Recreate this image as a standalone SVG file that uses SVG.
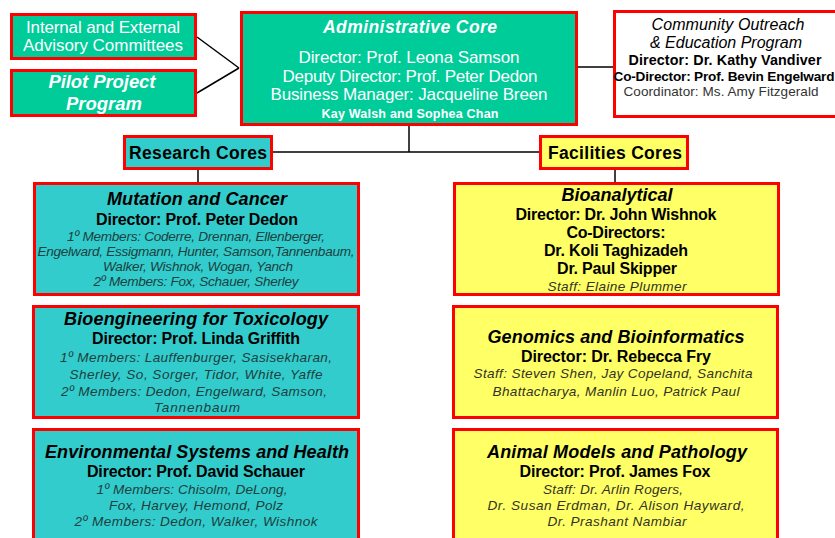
<svg xmlns="http://www.w3.org/2000/svg" width="835" height="538" viewBox="0 0 835 538">
<style>
text{font-family:"Liberation Sans",Arial,sans-serif;text-anchor:middle}
.box{stroke:#FF0000;stroke-width:3}
.green{fill:#00CC99}
.teal{fill:#33CCCC}
.yel{fill:#FFFF66}
.white{fill:#FFFFFF}
.conn line{stroke:#000;stroke-width:1.5}
.wt{fill:#FFFFFF}
.ttl{font-weight:bold;font-style:italic;font-size:18px;fill:#000}
.dir{font-weight:bold;font-size:16px;fill:#000}
.mem{font-style:italic;font-size:13.6px;fill:#1c3f3f}
.stf{font-style:italic;font-size:13.6px;fill:#333322}
</style>
<rect width="835" height="538" fill="#FFFFFF"/>
<g class="conn">
<line x1="197" y1="37" x2="239" y2="68"/>
<line x1="197" y1="93" x2="239" y2="68"/>
<line x1="578" y1="67" x2="614" y2="67"/>
<line x1="409" y1="126" x2="409" y2="152"/>
<line x1="273" y1="152" x2="539" y2="152"/>
<line x1="198" y1="170" x2="198" y2="183"/>
<line x1="615" y1="170" x2="615" y2="183"/>
</g>
<g id="advisory">
<rect class="box green" x="11.5" y="14.5" width="184" height="44"/>
<text class="wt" x="103" y="33" font-size="17" textLength="154">Internal and External</text>
<text class="wt" x="103" y="51" font-size="17" textLength="160">Advisory Committees</text>
</g>
<g id="pilot">
<rect class="box green" x="11.5" y="70.5" width="184" height="45"/>
<text class="wt" x="102" y="88" font-size="18.5" font-weight="bold" font-style="italic" textLength="107">Pilot Project</text>
<text class="wt" x="104" y="110" font-size="18.5" font-weight="bold" font-style="italic">Program</text>
</g>
<g id="admin">
<rect class="box green" x="241.5" y="12.5" width="335" height="112"/>
<text class="wt" x="410" y="33" font-size="17.5" font-weight="bold" font-style="italic" textLength="174">Administrative Core</text>
<text class="wt" x="409" y="63" font-size="17" textLength="221">Director: Prof. Leona Samson</text>
<text class="wt" x="410" y="82" font-size="17" textLength="255">Deputy Director: Prof. Peter Dedon</text>
<text class="wt" x="409" y="100" font-size="17" textLength="277">Business Manager: Jacqueline Breen</text>
<text class="wt" x="410" y="118" font-size="12.5" font-weight="bold" textLength="177">Kay Walsh and Sophea Chan</text>
</g>
<g id="outreach">
<rect class="box white" x="614.5" y="11.5" width="225" height="105"/>
<text x="728" y="30" font-size="16" font-style="italic" fill="#000" textLength="153">Community Outreach</text>
<text x="726" y="48" font-size="16" font-style="italic" fill="#000">&amp; Education Program</text>
<text x="725" y="65" font-size="14.3" font-weight="bold" fill="#000" textLength="193">Director: Dr. Kathy Vandiver</text>
<text x="724" y="81" font-size="13.6" font-weight="bold" fill="#000" textLength="221">Co-Director: Prof. Bevin Engelward</text>
<text x="721" y="96" font-size="13.5" fill="#333" textLength="195">Coordinator: Ms. Amy Fitzgerald</text>
</g>
<g id="research">
<rect class="box teal" x="124.5" y="136.5" width="147" height="32"/>
<text x="198" y="159" font-size="17.5" font-weight="bold" fill="#000" textLength="138">Research Cores</text>
</g>
<g id="facilities">
<rect class="box yel" x="540.5" y="136.5" width="147" height="32"/>
<text x="615" y="159" font-size="17.5" font-weight="bold" fill="#000" textLength="134">Facilities Cores</text>
</g>
<g id="mutation">
<rect class="box teal" x="34.5" y="183.5" width="324" height="111"/>
<text class="ttl" x="197" y="205" textLength="180">Mutation and Cancer</text>
<text class="dir" x="197" y="225" textLength="202">Director: Prof. Peter Dedon</text>
<text class="mem" x="196" y="241" textLength="258">1º Members: Coderre, Drennan, Ellenberger,</text>
<text class="mem" x="196" y="256" textLength="317">Engelward, Essigmann, Hunter, Samson,Tannenbaum,</text>
<text class="mem" x="198" y="271" textLength="190">Walker, Wishnok, Wogan, Yanch</text>
<text class="mem" x="196" y="286" textLength="205">2º Members: Fox, Schauer, Sherley</text>
</g>
<g id="bioanalytical">
<rect class="box yel" x="454.5" y="183.5" width="324" height="111"/>
<text class="ttl" x="617" y="201" textLength="111">Bioanalytical</text>
<text class="dir" x="616" y="220" textLength="201">Director: Dr. John Wishnok</text>
<text class="dir" x="616" y="238" textLength="99">Co-Directors:</text>
<text class="dir" x="616" y="256" textLength="144">Dr. Koli Taghizadeh</text>
<text class="dir" x="617" y="274" textLength="120">Dr. Paul Skipper</text>
<text class="stf" x="617" y="291" textLength="139">Staff: Elaine Plummer</text>
</g>
<g id="bioengineering">
<rect class="box teal" x="33.5" y="306.5" width="325" height="111"/>
<text class="ttl" x="196" y="325" textLength="264">Bioengineering for Toxicology</text>
<text class="dir" x="196" y="344" textLength="208">Director: Prof. Linda Griffith</text>
<text class="mem" x="196" y="362" textLength="272">1º Members: Lauffenburger, Sasisekharan,</text>
<text class="mem" x="196" y="379" textLength="253">Sherley, So, Sorger, Tidor, White, Yaffe</text>
<text class="mem" x="194" y="396" textLength="266">2º Members: Dedon, Engelward, Samson,</text>
<text class="mem" x="197" y="412" textLength="86">Tannenbaum</text>
</g>
<g id="genomics">
<rect class="box yel" x="453.5" y="306.5" width="324" height="111"/>
<text class="ttl" x="616" y="343" textLength="257">Genomics and Bioinformatics</text>
<text class="dir" x="616" y="362" textLength="190">Director: Dr. Rebecca Fry</text>
<text class="stf" x="613" y="378" textLength="279">Staff: Steven Shen, Jay Copeland, Sanchita</text>
<text class="stf" x="616" y="396" textLength="247">Bhattacharya, Manlin Luo, Patrick Paul</text>
</g>
<g id="environmental">
<rect class="box teal" x="33.5" y="429.5" width="325" height="120"/>
<text class="ttl" x="197" y="458" textLength="304">Environmental Systems and Health</text>
<text class="dir" x="196" y="477" textLength="218">Director: Prof. David Schauer</text>
<text class="mem" x="192" y="494" textLength="191">1º Members: Chisolm, DeLong,</text>
<text class="mem" x="196" y="510" textLength="174">Fox, Harvey, Hemond, Polz</text>
<text class="mem" x="196" y="526" textLength="243">2º Members: Dedon, Walker, Wishnok</text>
</g>
<g id="animal">
<rect class="box yel" x="453.5" y="429.5" width="324" height="120"/>
<text class="ttl" x="617" y="458" textLength="260">Animal Models and Pathology</text>
<text class="dir" x="615" y="477" textLength="191">Director: Prof. James Fox</text>
<text class="stf" x="613" y="494" textLength="140">Staff: Dr. Arlin Rogers,</text>
<text class="stf" x="616" y="510" textLength="257">Dr. Susan Erdman, Dr. Alison Hayward,</text>
<text class="stf" x="617" y="526" textLength="139">Dr. Prashant Nambiar</text>
</g>
</svg>
